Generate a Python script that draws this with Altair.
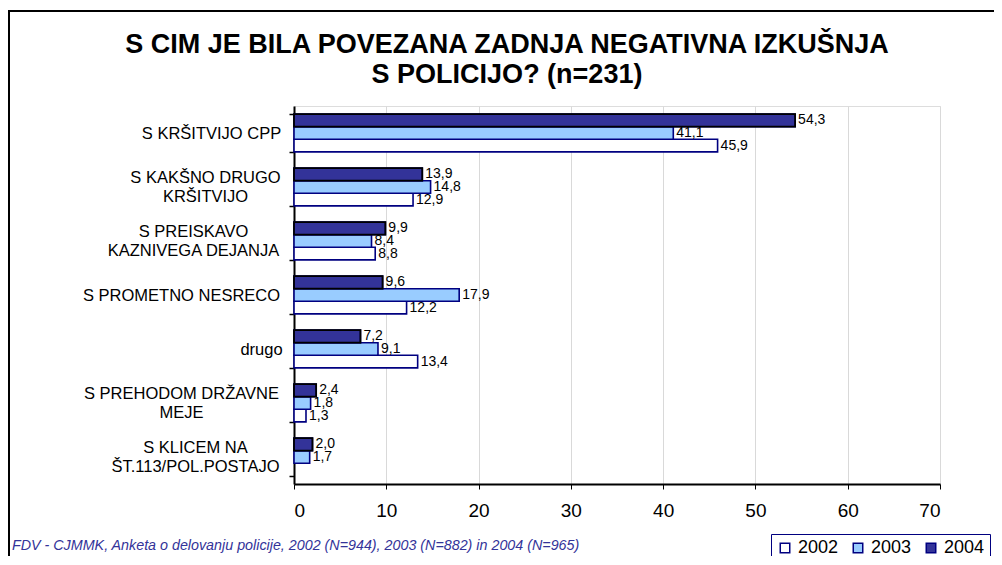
import altair as alt
import pandas as pd

# ---- data ----
categories = [
    "S KRŠITVIJO CPP",
    "S KAKŠNO DRUGO|KRŠITVIJO",
    "S PREISKAVO|KAZNIVEGA DEJANJA",
    "S PROMETNO NESRECO",
    "drugo",
    "S PREHODOM DRŽAVNE|MEJE",
    "S KLICEM NA|ŠT.113/POL.POSTAJO",
]
years = ["2002", "2003", "2004"]
v2002 = [45.9, 12.9, 8.8, 12.2, 13.4, 1.3, None]
v2003 = [41.1, 14.8, 8.4, 17.9, 9.1, 1.8, 1.7]
v2004 = [54.3, 13.9, 9.9, 9.6, 7.2, 2.4, 2.0]
x_ticks = [0, 10, 20, 30, 40, 50, 60, 70]
title_line1 = "S CIM JE BILA POVEZANA ZADNJA NEGATIVNA IZKUŠNJA"
title_line2 = "S POLICIJO? (n=231)"
footer = "FDV - CJMMK, Anketa o delovanju policije, 2002 (N=944),  2003 (N=882) in 2004 (N=965)"

rows = []
for yr, vals in zip(years, [v2002, v2003, v2004]):
    for c, v in zip(categories, vals):
        if v is not None:
            rows.append({"cat": c, "year": yr, "value": v})
df = pd.DataFrame(rows)

# ---- layout/style ----
label_pad = [78, 84, 96, 108, 28, 108, 94]
pad_cond = [{"test": f"datum.value === '{c}'", "value": p} for c, p in zip(categories, label_pad)]
off_cond = [{"test": f"datum.value === '{c}'", "value": -9.5} for c in categories if "|" in c]

fill_colors = ["#FFFFFF", "#99CCFF", "#333399"]
FONT = "Liberation Sans"

y_enc = alt.Y(
    "cat:N",
    sort=categories,
    title=None,
    scale=alt.Scale(paddingInner=0.3, paddingOuter=0.15),
    axis=alt.Axis(
        labelExpr="split(datum.label, '|')",
        labelAlign="center",
        labelBaseline="middle",
        labelFontSize=16.5,
        labelFont=FONT,
        labelColor="black",
        labelLineHeight=19,
        labelPadding={"condition": pad_cond, "value": 6},
        labelOffset={"condition": off_cond, "value": 0},
        tickBand="extent",
        tickSize=5,
        tickColor="black",
        tickWidth=1.5,
        domainColor="black",
        domainWidth=2,
        grid=False,
        labelLimit=400,
    ),
)
yoff = alt.YOffset("year:N", sort=["2004", "2003", "2002"], scale=alt.Scale(paddingInner=0, paddingOuter=0))
x_enc = alt.X(
    "value:Q",
    title=None,
    scale=alt.Scale(domain=[0, 70], nice=False),
    axis=alt.Axis(
        values=x_ticks,
        labelFontSize=19,
        labelFont=FONT,
        labelColor="black",
        labelPadding=12,
        tickSize=5,
        tickColor="black",
        domainColor="black",
        domainWidth=2,
        grid=True,
        gridColor="#d9d9d9",
        gridWidth=1,
    ),
)

bars = alt.Chart(df).mark_bar(strokeWidth=1.6).encode(
    x=x_enc,
    y=y_enc,
    yOffset=yoff,
    fill=alt.Fill(
        "year:N",
        scale=alt.Scale(domain=years, range=fill_colors),
        legend=alt.Legend(
            title=None,
            orient="none",
            legendX=477,
            legendY=428,
            direction="horizontal",
            symbolType="square",
            symbolSize=90,
            symbolStrokeWidth=1.5,
            labelFontSize=18,
            labelFont=FONT,
            labelColor="black",
            labelOffset=4,
            columnPadding=10,
            strokeColor="#000080",
            fillColor="white",
            padding=5,
        ),
    ),
    stroke=alt.Stroke("year:N", scale=alt.Scale(domain=years, range=["#000080", "#000080", "#000080"]), legend=None),
)

# 2004 bars have a black border
bars2004_outline = alt.Chart(df).transform_filter("datum.year === '2004'").mark_bar(
    fillOpacity=0, stroke="black", strokeWidth=1.8
).encode(x="value:Q", y=alt.Y("cat:N", sort=categories), yOffset=yoff)

labels = alt.Chart(df).transform_calculate(
    lab="replace(format(datum.value, '.1f'), '.', ',')"
).mark_text(align="left", baseline="middle", dx=3, fontSize=14, font=FONT, color="black").encode(
    x="value:Q",
    y=alt.Y("cat:N", sort=categories),
    yOffset=yoff,
    text="lab:N",
)

frame = alt.Chart(pd.DataFrame({"a": [0]})).mark_rect(
    fillOpacity=0, stroke="black", strokeWidth=2, clip=False
).encode(
    x=alt.value(-285), x2=alt.value(720), y=alt.value(-95), y2=alt.value(500)
)

foot = alt.Chart(pd.DataFrame({"a": [0]})).mark_text(
    align="left", baseline="middle", fontStyle="italic", fontSize=14.3, font=FONT, color="#333399"
).encode(x=alt.value(-282), y=alt.value(440), text=alt.value(footer))

t1 = alt.Chart(pd.DataFrame({"a": [0]})).mark_text(
    align="center", baseline="middle", fontSize=27, fontWeight="bold", font=FONT, color="black"
).encode(x=alt.value(213), y=alt.value(-61), text=alt.value(title_line1))

t2 = alt.Chart(pd.DataFrame({"a": [0]})).mark_text(
    align="center", baseline="middle", fontSize=27, fontWeight="bold", font=FONT, color="black"
).encode(x=alt.value(213), y=alt.value(-31), text=alt.value(title_line2))

chart = alt.layer(frame, bars, bars2004_outline, labels, foot, t1, t2).properties(
    width=646,
    height=378,
    autosize=alt.AutoSizeParams(type="none"),
    padding={"left": 286, "top": 98, "right": 54, "bottom": 72},
).configure_view(stroke="#000080", strokeWidth=1.5).configure(background="white")

chart.save("out.html", embed_options={"renderer": "svg", "actions": False})
